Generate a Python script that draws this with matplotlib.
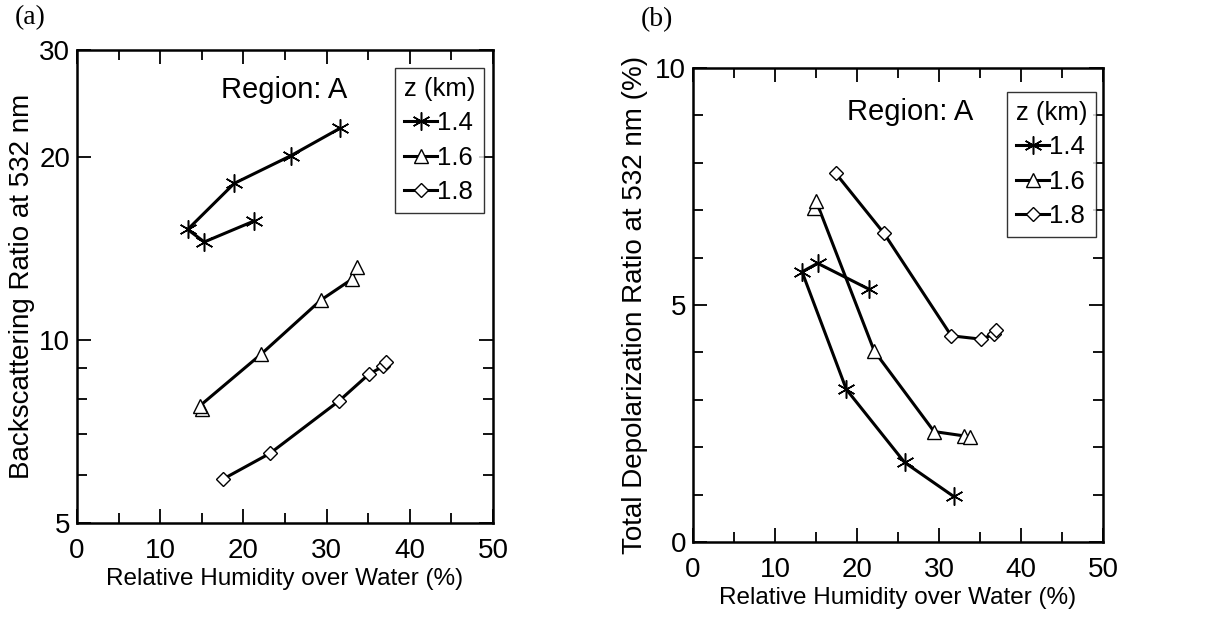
import numpy as np
import matplotlib
matplotlib.use("Agg")
import matplotlib.pyplot as plt
from matplotlib.ticker import FixedLocator, NullFormatter, FixedFormatter

plt.rcParams['font.family'] = ['Liberation Sans', 'DejaVu Sans']

heights = ["1.4", "1.6", "1.8"]

# (a) backscattering ratio at 532 nm vs RH
rh_a_14 = [21.3, 15.3, 13.3, 18.9, 25.7, 31.6]
br_a_14 = [15.7, 14.5, 15.2, 18.1, 20.1, 22.3]
rh_a_16 = [15.0, 14.8, 22.1, 29.3, 33.0, 33.7]
br_a_16 = [7.7, 7.8, 9.47, 11.63, 12.58, 13.2]
rh_a_18 = [17.5, 23.2, 31.5, 35.1, 36.8, 37.1]
br_a_18 = [5.9, 6.51, 7.94, 8.79, 9.05, 9.2]

# (b) total depolarization ratio at 532 nm vs RH
rh_b_14 = [21.5, 15.2, 13.3, 18.7, 25.8, 31.8]
dp_b_14 = [5.33, 5.88, 5.70, 3.22, 1.68, 0.96]
rh_b_16 = [14.7, 15.0, 22.1, 29.4, 33.0, 33.8]
dp_b_16 = [7.05, 7.2, 4.03, 2.33, 2.24, 2.21]
rh_b_18 = [17.4, 23.3, 31.5, 35.1, 36.7, 36.9]
dp_b_18 = [7.78, 6.51, 4.35, 4.28, 4.38, 4.47]

asterisk = (6, 2, 0)
styles = [dict(marker=asterisk, ms=13, mew=1.1),
          dict(marker='^', ms=10, mfc='white', mew=1.0),
          dict(marker='D', ms=7.5, mfc='white', mew=1.0)]

fig = plt.figure(figsize=(12.08, 6.19), dpi=100)
W, H = 1208, 619
ax1 = fig.add_axes([77 / W, 1 - 523 / H, (493 - 77) / W, (523 - 50) / H])
ax2 = fig.add_axes([693 / W, 1 - 542 / H, (1103 - 693) / W, (542 - 68) / H])


def style_axes(ax):
    ax.set_xlim(0, 50)
    ax.set_xticks([0, 10, 20, 30, 40, 50])
    ax.xaxis.set_minor_locator(FixedLocator([5, 15, 25, 35, 45]))
    ax.tick_params(which='both', direction='in', top=True, right=True, width=1.3)
    ax.tick_params(which='major', length=10)
    ax.tick_params(which='minor', length=7)
    ax.tick_params(axis='x', pad=11, labelsize=20)
    ax.tick_params(axis='y', pad=5, labelsize=20)
    for s in ax.spines.values():
        s.set_linewidth(1.8)
    ax.set_xlabel("Relative Humidity over Water (%)", fontsize=17.5, labelpad=3)


def add_legend(ax, handles, loc_box):
    leg = ax.legend(handles, heights, title="z (km)", loc='upper left',
                    bbox_to_anchor=loc_box, frameon=True, fancybox=False,
                    edgecolor='black', handlelength=1.3, handletextpad=0.0,
                    borderpad=0.35, labelspacing=0.4, borderaxespad=0,
                    fontsize=18.5, title_fontsize=18.5)
    leg.get_frame().set_linewidth(1.0)
    leg._legend_box.align = "left"


# panel (a)
h = []
for xs, ys, st in [(rh_a_14, br_a_14, styles[0]),
                   (rh_a_16, br_a_16, styles[1]),
                   (rh_a_18, br_a_18, styles[2])]:
    ln, = ax1.plot(xs, ys, color='black', lw=2.2, mec='black', **st)
    h.append(ln)
ax1.set_yscale('log')
ax1.set_ylim(5, 30)
ax1.yaxis.set_major_locator(FixedLocator([5, 10, 20, 30]))
ax1.yaxis.set_major_formatter(FixedFormatter(["5", "10", "20", "30"]))
ax1.yaxis.set_minor_locator(FixedLocator([6, 7, 8, 9]))
ax1.yaxis.set_minor_formatter(NullFormatter())
style_axes(ax1)
ax1.set_ylabel("Backscattering Ratio at 532 nm", fontsize=20, labelpad=3)
ax1.text(0.4976, 0.8985, "Region: A", transform=ax1.transAxes, fontsize=21,
         ha='center', va='baseline')
add_legend(ax1, h, ((395 - 77) / 416, (523 - 68) / 473))

# panel (b)
h = []
for xs, ys, st in [(rh_b_14, dp_b_14, styles[0]),
                   (rh_b_16, dp_b_16, styles[1]),
                   (rh_b_18, dp_b_18, styles[2])]:
    ln, = ax2.plot(xs, ys, color='black', lw=2.2, mec='black', **st)
    h.append(ln)
ax2.set_ylim(0, 10)
ax2.set_yticks([0, 5, 10])
ax2.yaxis.set_minor_locator(FixedLocator([1, 2, 3, 4, 6, 7, 8, 9]))
style_axes(ax2)
ax2.set_ylabel("Total Depolarization Ratio at 532 nm (%)", fontsize=20, labelpad=5)
ax2.text(0.529, 0.890, "Region: A", transform=ax2.transAxes, fontsize=21,
         ha='center', va='baseline')
add_legend(ax2, h, ((1007 - 693) / 410, (542 - 92) / 474))

fig.text(30 / W, 1 - 18 / H, "(a)", fontsize=20, family='Liberation Serif',
         ha='center', va='center')
fig.text(657 / W, 1 - 20 / H, "(b)", fontsize=20, family='Liberation Serif',
         ha='center', va='center')

fig.savefig("out.png", dpi=100)
